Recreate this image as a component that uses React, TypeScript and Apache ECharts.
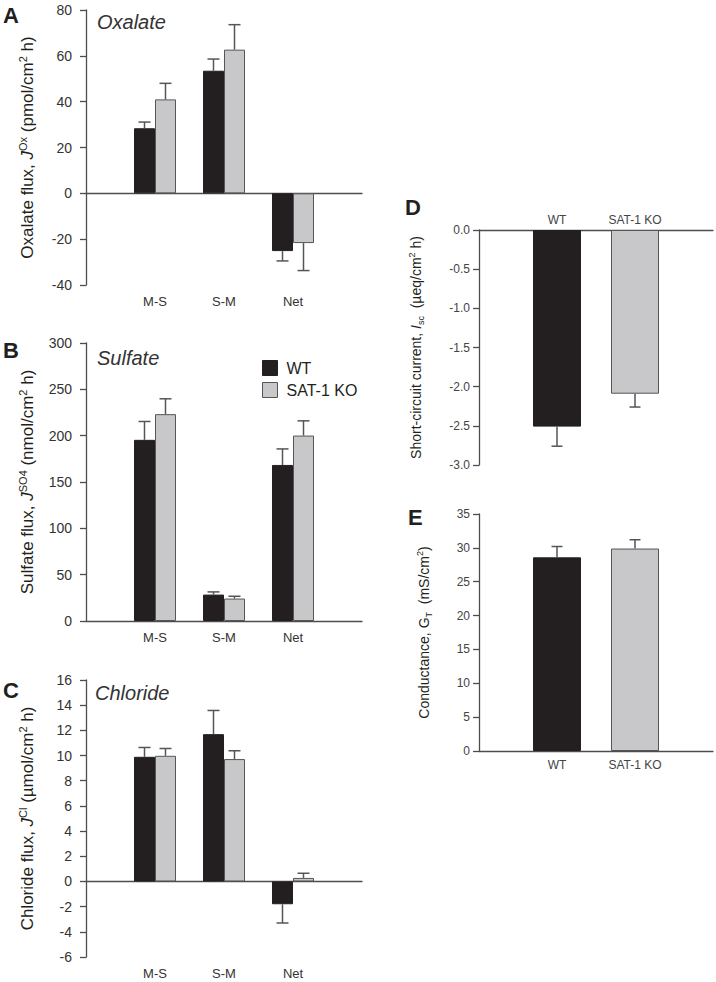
import React, { useEffect, useRef } from "react";
import * as echarts from "echarts";

// ---------- DATA ----------
const fluxCategories = ["M-S", "S-M", "Net"];
const genotypes = ["WT", "SAT-1 KO"];

const oxalateWT = [28.4, 53.5, -25.2];
const oxalateWTSem = [2.7, 5.1, 4.3];
const oxalateKO = [41.0, 62.7, -21.7];
const oxalateKOSem = [7.0, 10.9, 12.0];

const sulfateWT = [195.5, 28.5, 168.4];
const sulfateWTSem = [19.8, 2.9, 17.3];
const sulfateKO = [223.2, 24.2, 200.1];
const sulfateKOSem = [16.6, 2.5, 15.9];

const chlorideWT = [9.9, 11.7, -1.81];
const chlorideWTSem = [0.74, 1.88, 1.49];
const chlorideKO = [9.98, 9.72, 0.28];
const chlorideKOSem = [0.58, 0.66, 0.37];

const iscMean = [-2.51, -2.09];
const iscSem = [0.25, 0.17];
const gtMean = [28.6, 29.9];
const gtSem = [1.6, 1.3];

// ---------- STYLE ----------
const FONT = "'Liberation Sans', Arial, Helvetica, sans-serif";
const WT_COLOR = "#231f20";
const KO_COLOR = "#c8c8ca";
const KO_BORDER = "#555555";
const AXIS_COLOR = "#4d4d4d";
const ERR_COLOR = "#555555";

function errRender(offsetPx: number, cap: number) {
  return (params: any, api: any) => {
    const cat = api.value(0);
    const mean = api.value(1);
    const end = api.value(2);
    const p0 = api.coord([cat, mean]);
    const p1 = api.coord([cat, end]);
    const x = p0[0] + offsetPx;
    return {
      type: "group",
      children: [
        { type: "line", shape: { x1: x, y1: p0[1], x2: x, y2: p1[1] }, style: { stroke: ERR_COLOR, lineWidth: 1.5 } },
        { type: "line", shape: { x1: x - cap / 2, y1: p1[1], x2: x + cap / 2, y2: p1[1] }, style: { stroke: ERR_COLOR, lineWidth: 1.5 } },
      ],
    };
  };
}

function errData(means: number[], sems: number[], startIndex: number) {
  return means.map((m, i) => [i + startIndex, m, m + (m < 0 ? -sems[i] : sems[i])]);
}

const richBig = {
  n: { fontSize: 17, fontFamily: FONT, color: WT_COLOR, lineHeight: 21 },
  i: { fontSize: 17, fontFamily: FONT, color: WT_COLOR, fontStyle: "italic", lineHeight: 21 },
  sup: { fontSize: 11, fontFamily: FONT, color: WT_COLOR, verticalAlign: "top", lineHeight: 12 },
};
const richSmall = {
  n: { fontSize: 14, fontFamily: FONT, color: WT_COLOR, lineHeight: 18 },
  i: { fontSize: 14, fontFamily: FONT, color: WT_COLOR, fontStyle: "italic", lineHeight: 18 },
  sup: { fontSize: 9, fontFamily: FONT, color: WT_COLOR, verticalAlign: "top", lineHeight: 10 },
  sub: { fontSize: 9, fontFamily: FONT, color: WT_COLOR, verticalAlign: "bottom", lineHeight: 10 },
};

export default function App() {
  const ref = useRef<HTMLDivElement>(null);

  useEffect(() => {
    if (!ref.current) return;
    const chart = echarts.init(ref.current, undefined, { renderer: "svg" });

    const paddedCats = ["", ...fluxCategories, ""];
    const paddedGeno = ["", ...genotypes, ""];

    const fluxPanels = [
      {
        top: 10, height: 275, min: -40, max: 80, interval: 20,
        name: "{n|Oxalate flux, }{i|J}{sup|Ox}{n| (pmol/cm}{sup|2}{n| h)}",
        wt: oxalateWT, wtSem: oxalateWTSem, ko: oxalateKO, koSem: oxalateKOSem,
      },
      {
        top: 343, height: 278, min: 0, max: 300, interval: 50,
        name: "{n|Sulfate flux, }{i|J}{sup|SO4}{n| (nmol/cm}{sup|2}{n| h)}",
        wt: sulfateWT, wtSem: sulfateWTSem, ko: sulfateKO, koSem: sulfateKOSem,
      },
      {
        top: 680, height: 277, min: -6, max: 16, interval: 2,
        name: "{n|Chloride flux, }{i|J}{sup|Cl}{n| (µmol/cm}{sup|2}{n| h)}",
        wt: chlorideWT, wtSem: chlorideWTSem, ko: chlorideKO, koSem: chlorideKOSem,
      },
    ];

    const grid: any[] = [];
    const xAxis: any[] = [];
    const yAxis: any[] = [];
    const series: any[] = [];

    fluxPanels.forEach((p, gi) => {
      grid.push({ left: 86, top: p.top, width: 276, height: p.height, containLabel: false });
      const xLineIdx = xAxis.length;
      xAxis.push({
        type: "category", gridIndex: gi, data: paddedCats, boundaryGap: false, position: "bottom",
        axisLine: { onZero: true, lineStyle: { color: AXIS_COLOR, width: 1.3 } },
        axisTick: { show: false }, axisLabel: { show: false }, splitLine: { show: false },
      });
      xAxis.push({
        type: "category", gridIndex: gi, data: paddedCats, boundaryGap: false, position: "bottom",
        axisLine: { show: false, onZero: false }, axisTick: { show: false }, splitLine: { show: false },
        axisLabel: { show: true, interval: 0, margin: 10, fontSize: 13, color: "#333", fontFamily: FONT },
      });
      const yIdx = yAxis.length;
      yAxis.push({
        type: "value", gridIndex: gi, min: p.min, max: p.max, interval: p.interval,
        axisLine: { show: true, lineStyle: { color: AXIS_COLOR, width: 1.3 } },
        axisTick: { show: true, inside: false, length: 6, lineStyle: { color: AXIS_COLOR, width: 1.3 } },
        axisLabel: { fontSize: 14, color: "#333", margin: 14, fontFamily: FONT },
        splitLine: { show: false },
        name: p.name, nameLocation: "middle", nameRotate: 90, nameGap: 48,
        nameTextStyle: { fontSize: 17, color: WT_COLOR, fontFamily: FONT, rich: richBig },
      });
      series.push({
        type: "bar", name: "WT", xAxisIndex: xLineIdx, yAxisIndex: yIdx,
        data: [null, ...p.wt, null], barWidth: 21, barGap: "0%",
        itemStyle: { color: WT_COLOR, borderColor: WT_COLOR, borderWidth: 1 },
      });
      series.push({
        type: "bar", name: "SAT-1 KO", xAxisIndex: xLineIdx, yAxisIndex: yIdx,
        data: [null, ...p.ko, null], barWidth: 21, barGap: "0%",
        itemStyle: { color: KO_COLOR, borderColor: KO_BORDER, borderWidth: 1 },
      });
      series.push({
        type: "custom", name: "WT error", xAxisIndex: xLineIdx, yAxisIndex: yIdx,
        renderItem: errRender(-10.5, 12), data: errData(p.wt, p.wtSem, 1), z: 5,
      });
      series.push({
        type: "custom", name: "SAT-1 KO error", xAxisIndex: xLineIdx, yAxisIndex: yIdx,
        renderItem: errRender(10.5, 12), data: errData(p.ko, p.koSem, 1), z: 5,
      });
    });

    // Panel D
    const gD = grid.length;
    grid.push({ left: 479, top: 230, width: 237, height: 235 });
    const xD = xAxis.length;
    xAxis.push({
      type: "category", gridIndex: gD, data: paddedGeno, boundaryGap: false, position: "top",
      axisLine: { onZero: false, lineStyle: { color: AXIS_COLOR, width: 1.3 } },
      axisTick: { show: false }, splitLine: { show: false },
      axisLabel: { interval: 0, margin: 4, fontSize: 12, color: "#444", fontFamily: FONT },
    });
    const yD = yAxis.length;
    yAxis.push({
      type: "value", gridIndex: gD, min: -3, max: 0, interval: 0.5,
      axisLine: { show: true, lineStyle: { color: AXIS_COLOR, width: 1.3 } },
      axisTick: { show: true, length: 6, lineStyle: { color: AXIS_COLOR, width: 1.3 } },
      axisLabel: { fontSize: 12, color: "#444", margin: 9, fontFamily: FONT, formatter: (v: number) => v.toFixed(1) },
      splitLine: { show: false },
      name: "{n|Short-circuit current, }{i|I}{sub|sc}{n|  (µeq/cm}{sup|2}{n| h)}",
      nameLocation: "middle", nameRotate: 90, nameGap: 54,
      nameTextStyle: { fontSize: 14, color: WT_COLOR, fontFamily: FONT, rich: richSmall },
    });
    series.push({
      type: "bar", name: "Isc", xAxisIndex: xD, yAxisIndex: yD, barWidth: 48,
      data: [
        null,
        { value: iscMean[0], itemStyle: { color: WT_COLOR, borderColor: WT_COLOR, borderWidth: 1 } },
        { value: iscMean[1], itemStyle: { color: KO_COLOR, borderColor: KO_BORDER, borderWidth: 1 } },
        null,
      ],
    });
    series.push({
      type: "custom", name: "Isc error", xAxisIndex: xD, yAxisIndex: yD,
      renderItem: errRender(0, 11), data: errData(iscMean, iscSem, 1), z: 5,
    });

    // Panel E
    const gE = grid.length;
    grid.push({ left: 479, top: 514, width: 237, height: 237 });
    const xE = xAxis.length;
    xAxis.push({
      type: "category", gridIndex: gE, data: paddedGeno, boundaryGap: false, position: "bottom",
      axisLine: { onZero: true, lineStyle: { color: AXIS_COLOR, width: 1.3 } },
      axisTick: { show: false }, splitLine: { show: false },
      axisLabel: { interval: 0, margin: 8, fontSize: 12, color: "#444", fontFamily: FONT },
    });
    const yE = yAxis.length;
    yAxis.push({
      type: "value", gridIndex: gE, min: 0, max: 35, interval: 5,
      axisLine: { show: true, lineStyle: { color: AXIS_COLOR, width: 1.3 } },
      axisTick: { show: true, length: 6, lineStyle: { color: AXIS_COLOR, width: 1.3 } },
      axisLabel: { fontSize: 12, color: "#444", margin: 9, fontFamily: FONT },
      splitLine: { show: false },
      name: "{n|Conductance, G}{sub|T}{n|  (mS/cm}{sup|2}{n|)}",
      nameLocation: "middle", nameRotate: 90, nameGap: 46,
      nameTextStyle: { fontSize: 14, color: WT_COLOR, fontFamily: FONT, rich: richSmall },
    });
    series.push({
      type: "bar", name: "GT", xAxisIndex: xE, yAxisIndex: yE, barWidth: 48,
      data: [
        null,
        { value: gtMean[0], itemStyle: { color: WT_COLOR, borderColor: WT_COLOR, borderWidth: 1 } },
        { value: gtMean[1], itemStyle: { color: KO_COLOR, borderColor: KO_BORDER, borderWidth: 1 } },
        null,
      ],
    });
    series.push({
      type: "custom", name: "GT error", xAxisIndex: xE, yAxisIndex: yE,
      renderItem: errRender(0, 11), data: errData(gtMean, gtSem, 1), z: 5,
    });

    const letter = (t: string, x: number, y: number) => ({
      type: "text", x, y,
      style: { text: t, fontSize: 22, fontWeight: "bold", fontFamily: FONT, fill: WT_COLOR, textVerticalAlign: "middle" },
    });
    const ion = (t: string, x: number, y: number) => ({
      type: "text", x, y,
      style: { text: t, fontSize: 20, fontStyle: "italic", fontFamily: FONT, fill: "#333", textVerticalAlign: "middle" },
    });

    chart.setOption({
      animation: false,
      backgroundColor: "#ffffff",
      textStyle: { fontFamily: FONT },
      grid,
      xAxis,
      yAxis,
      series,
      legend: {
        show: true,
        orient: "vertical",
        left: 257,
        top: 355,
        itemWidth: 15,
        itemHeight: 15,
        itemGap: 6,
        icon: "rect",
        selectedMode: false,
        textStyle: { fontSize: 16, color: WT_COLOR, fontFamily: FONT, padding: [0, 0, 0, 4] },
        data: [
          { name: "WT", itemStyle: { color: WT_COLOR, borderColor: WT_COLOR, borderWidth: 1 } },
          { name: "SAT-1 KO", itemStyle: { color: KO_COLOR, borderColor: KO_BORDER, borderWidth: 1 } },
        ],
      },
      graphic: [
        letter("A", 3, 15),
        letter("B", 3, 350),
        letter("C", 3, 690),
        letter("D", 405, 207),
        letter("E", 408, 517),
        ion("Oxalate", 97, 22),
        ion("Sulfate", 97, 358),
        ion("Chloride", 95, 693),
      ],
    });

    return () => chart.dispose();
  }, []);

  return <div ref={ref} style={{ position: "absolute", left: 0, top: 0, width: 716, height: 982 }} />;
}
